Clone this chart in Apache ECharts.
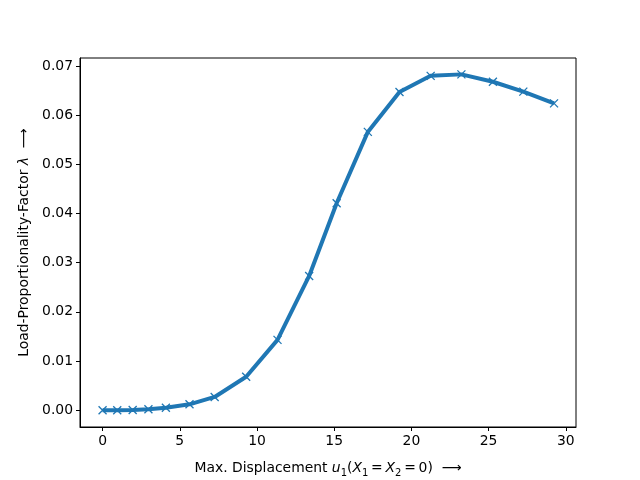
<!DOCTYPE html>
<html>
<head>
<meta charset="utf-8">
<script src="https://cdn.jsdelivr.net/npm/echarts@6/dist/echarts.min.js"></script>
<style>
  html, body { margin: 0; padding: 0; background: #fff; }
  #chart { width: 640px; height: 480px; }
</style>
</head>
<body>
<div id="chart"></div>
<script>
// displacement values (x) and load factor (y)
const displacement = [0, 0.95, 1.95, 2.97, 4.1, 5.63, 7.26, 9.3, 11.33, 13.38, 15.16, 17.18, 19.23, 21.25, 23.24, 25.28, 27.25, 29.24];
const lambda = [0, 0, 0.00005, 0.0002, 0.0005, 0.0012, 0.0027, 0.0068, 0.0143, 0.0273, 0.0421, 0.0566, 0.0647, 0.0680, 0.0683, 0.0668, 0.0648, 0.0624];
const xTicks = [0, 5, 10, 15, 20, 25, 30];
const yTicks = [0, 0.01, 0.02, 0.03, 0.04, 0.05, 0.06, 0.07];

const chart = echarts.init(document.getElementById("chart"));
const font = "DejaVu Sans";
const fs = 13.9;

const points = displacement.map((x, i) => [x, lambda[i]]);

const option = {
  animation: false,
  backgroundColor: "#fff",
  grid: {
    left: 80, right: 64, top: 58, bottom: 53,
    show: true, borderColor: "#000", borderWidth: 1,
    containLabel: false, outerBoundsMode: "none"
  },
  xAxis: {
    type: "value",
    min: -1.462,
    max: 30.662,
    axisLine: { show: true, onZero: false, lineStyle: { color: "#000", width: 1 } },
    axisTick: { show: true, customValues: xTicks, length: 4, lineStyle: { color: "#000" } },
    axisLabel: {
      customValues: xTicks, color: "#000", fontFamily: font, fontSize: fs, margin: 7
    },
    splitLine: { show: false },
    name: "{n|Max. Displacement }{i|u}{s|1}{n|(}{i|X}{s|1}{n|\u2009=\u2009}{i|X}{s|2}{n|\u2009=\u20090)  ⟶}",
    nameLocation: "middle",
    nameGap: 30,
    nameTextStyle: {
      rich: {
        n: { fontFamily: font, fontSize: fs, color: "#000", lineHeight: 18, verticalAlign: "bottom" },
        i: { fontFamily: font, fontSize: fs, fontStyle: "italic", color: "#000", lineHeight: 18, verticalAlign: "bottom" },
        s: { fontFamily: font, fontSize: 10, color: "#000", lineHeight: 18, verticalAlign: "bottom", padding: [0, 0, -3, 0] }
      }
    }
  },
  yAxis: {
    type: "value",
    min: -0.00341,
    max: 0.07163,
    axisLine: { show: true, onZero: false, lineStyle: { color: "#000", width: 1 } },
    axisTick: { show: true, customValues: yTicks, length: 4, lineStyle: { color: "#000" } },
    axisLabel: {
      customValues: yTicks, color: "#000", fontFamily: font, fontSize: fs, margin: 7,
      formatter: v => v.toFixed(2)
    },
    splitLine: { show: false },
    name: "{n|Load-Proportionality-Factor }{i|λ}{n|  ⟶}",
    nameLocation: "middle",
    nameRotate: 90,
    nameGap: 48,
    nameTextStyle: {
      rich: {
        n: { fontFamily: font, fontSize: fs, color: "#000" },
        i: { fontFamily: font, fontSize: fs, fontStyle: "italic", color: "#000" }
      }
    }
  },
  series: [
    {
      type: "line",
      data: points,
      symbol: "path://M0,0L10,10M10,0L0,10",
      symbolSize: 8,
      showSymbol: true,
      lineStyle: { color: "#1f77b4", width: 4 },
      itemStyle: { color: "#1f77b4", borderColor: "#1f77b4", borderWidth: 1.3 },
      z: 3
    }
  ]
};

chart.setOption(option);
</script>
</body>
</html>
